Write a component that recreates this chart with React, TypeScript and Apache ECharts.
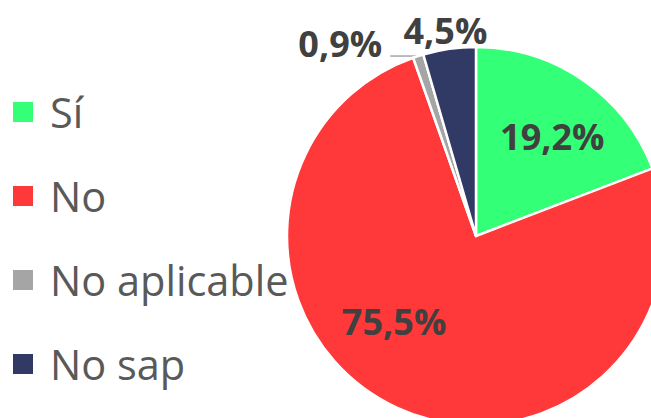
import React, { useEffect, useRef } from "react";
import * as echarts from "echarts";

const categories = ["Sí", "No", "No aplicable", "No sap"];
const values = [19.2, 75.5, 0.9, 4.5];
const colors = ["#33FF77", "#FF3939", "#A5A5A5", "#303A64"];

export default function App() {
  const ref = useRef<HTMLDivElement>(null);
  useEffect(() => {
    if (!ref.current) return;
    const chart = echarts.init(ref.current, undefined, { renderer: "svg" });
    const data = categories.map((name, i) => ({
      name,
      value: values[i],
      itemStyle: { color: colors[i] },
      label: { position: i < 2 ? "inside" : "outside" },
      labelLine: { show: i === 2, length: 0, length2: 28, lineStyle: { color: "#A6A6A6", width: 1.5 } },
    }));
    chart.setOption({
      animation: false,
      backgroundColor: "#FFFFFF",
      legend: {
        orient: "vertical",
        left: 11,
        top: 91,
        padding: 0,
        icon: "rect",
        itemWidth: 22,
        itemHeight: 22,
        itemGap: 42,
        selectedMode: false,
        data: categories,
        textStyle: {
          fontFamily: "Open Sans",
          fontSize: 41.5,
          color: "#595959",
          lineHeight: 42,
          padding: [0, 0, 0, 11],
        },
      },
      series: [
        {
          type: "pie",
          center: [476, 236],
          radius: 189,
          startAngle: 90,
          clockwise: true,
          avoidLabelOverlap: false,
          itemStyle: { borderColor: "#FFFFFF", borderWidth: 2.5 },
          label: {
            show: true,
            fontFamily: "Open Sans",
            fontWeight: "bold",
            fontSize: 36,
            color: "#404040",
            formatter: (p: any) => p.value.toFixed(1).replace(".", ",") + "%",
          },
          labelLine: { show: false },
          labelLayout: (p: any) => {
            if (p.dataIndex === 0) return { dx: 21, dy: -19 };
            if (p.dataIndex === 1) return { dx: -41, dy: -3 };
            if (p.dataIndex === 2) return { dx: -3, dy: -13 };
            return { dx: 71, dy: -18 };
          },
          data,
        },
      ],
    });
    return () => chart.dispose();
  }, []);
  return (
    <div
      ref={ref}
      style={{ position: "fixed", left: 0, top: 0, width: 651, height: 418 }}
    />
  );
}
